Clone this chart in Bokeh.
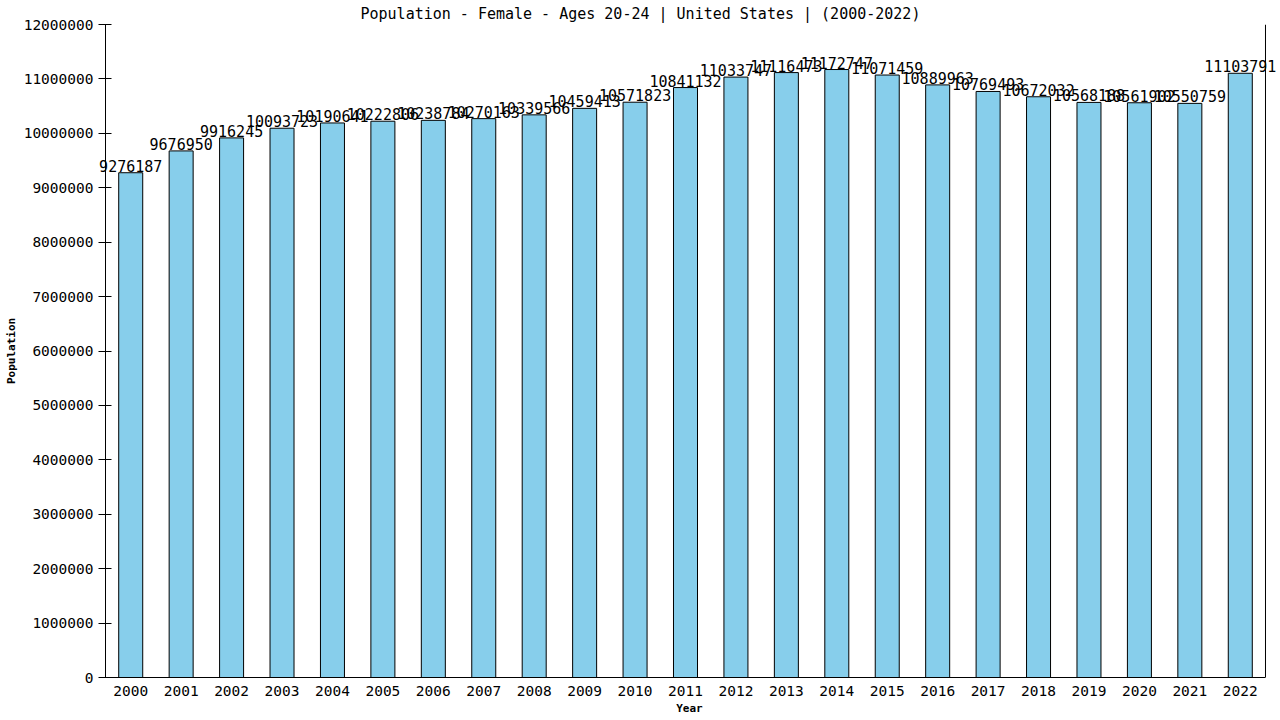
from bokeh.plotting import figure
from bokeh.models import ColumnDataSource, Label, FixedTicker, Range1d, Span
from bokeh.embed import file_html
from bokeh.resources import INLINE

years = [str(y) for y in range(2000, 2023)]
population = [9276187, 9676950, 9916245, 10093723, 10190641, 10222806, 10238784,
              10270163, 10339566, 10459413, 10571823, 10841132, 11033747, 11116473,
              11172747, 11071459, 10889963, 10769493, 10672032, 10568188, 10561902,
              10550759, 11103791]
y_ticks = list(range(0, 12000001, 1000000))

title_text = "Population - Female - Ages 20-24 | United States |  (2000-2022)"
FONT = "DejaVu Sans Mono"

n = len(years)
xpos = [i + 0.5 for i in range(n)]          # slot centres, one slot per year
src = ColumnDataSource(dict(x=xpos, year=years, pop=population))

PX = 50.43                                   # pixels per slot
p = figure(width=1280, height=720,
           x_range=Range1d(-7 / PX, n + 15 / PX), y_range=Range1d(0, 12000000),
           output_backend="svg", toolbar_location=None,
           min_border_left=98, min_border_right=0, min_border_top=24, min_border_bottom=43)

p.vbar(x="x", top="pop", width=0.476, source=src,
       fill_color="#87CEEB", line_color="black", line_width=1)

for xv, v in zip(xpos, population):
    p.add_layout(Label(x=xv, y=v, text=str(v), text_align="center",
                       text_baseline="alphabetic", y_offset=7,
                       text_font=FONT, text_font_size="15px", text_color="black"))

p.title.text = title_text
p.title.align = "left"
p.title.text_font = FONT
p.title.text_font_size = "15px"
p.title.text_font_style = "normal"
p.title.text_color = "black"
p.title.standoff = 3
p.title.offset = 262

p.grid.visible = False
p.outline_line_color = None
p.background_fill_color = "white"
p.border_fill_color = "white"

ya = p.yaxis[0]
ya.ticker = FixedTicker(ticks=y_ticks)
ya.formatter.use_scientific = False
ya.major_tick_in = 13
ya.major_tick_out = 0
ya.minor_tick_in = 0
ya.minor_tick_out = 0
ya.major_tick_line_color = "black"
ya.major_label_standoff = 5
ya.major_label_text_font = FONT
ya.major_label_text_font_size = "14.5px"
ya.major_label_text_color = "black"
ya.axis_line_color = None
ya.axis_label = "Population"
ya.axis_label_text_font = FONT
ya.axis_label_text_font_size = "11px"
ya.axis_label_text_font_style = "bold"
ya.axis_label_text_color = "black"
ya.axis_label_standoff = 3

xa = p.xaxis[0]
xa.bounds = (0, n)
xa.ticker = FixedTicker(ticks=xpos)
xa.major_label_overrides = {xv: yr for xv, yr in zip(xpos, years)}
xa.major_tick_in = 0
xa.major_tick_out = 0
xa.minor_tick_in = 0
xa.minor_tick_out = 0
xa.major_label_standoff = 8
xa.major_label_text_font = FONT
xa.major_label_text_font_size = "14.5px"
xa.major_label_text_color = "black"
xa.axis_line_color = "black"
xa.axis_label = "Year"
xa.axis_label_text_font = FONT
xa.axis_label_text_font_size = "11px"
xa.axis_label_text_font_style = "bold"
xa.axis_label_text_color = "black"
xa.axis_label_standoff = 3

left_edge = Span(location=0, dimension="height", line_color="black", line_width=1)
right_edge = Span(location=n, dimension="height", line_color="black", line_width=1)
p.add_layout(left_edge)
p.add_layout(right_edge)

open("out.html", "w").write(file_html(p, INLINE))
